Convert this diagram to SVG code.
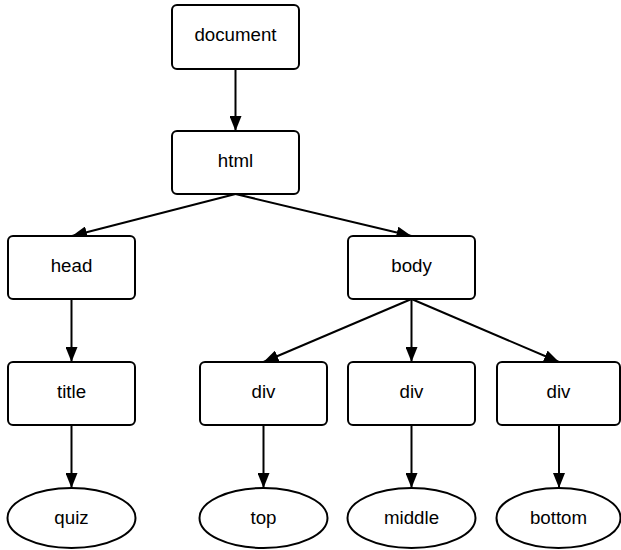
<svg xmlns="http://www.w3.org/2000/svg" width="621" height="550" viewBox="0 0 621 550">
<style>
.box{fill:#fff;stroke:#000;stroke-width:2}
.lbl{font-family:"Liberation Sans",Arial,sans-serif;font-size:18.7px;fill:#000;text-anchor:middle}
.edge{stroke:#000;stroke-width:2;fill:none;marker-end:url(#arr)}
</style>
<defs>
<marker id="arr" markerUnits="userSpaceOnUse" viewBox="0 0 15 12" refX="15" refY="6" markerWidth="15" markerHeight="12" orient="auto">
<path d="M0,0 L15,6 L0,12 Z" fill="#000"/>
</marker>
</defs>
<rect width="621" height="550" fill="#fff"/>
<g id="connectors">
<line class="edge" x1="235.5" y1="69" x2="235.5" y2="131"/>
<line class="edge" x1="235.5" y1="194" x2="72" y2="236"/>
<line class="edge" x1="235.5" y1="194" x2="411.5" y2="236"/>
<line class="edge" x1="71.5" y1="299" x2="71.5" y2="362"/>
<line class="edge" x1="411.5" y1="299" x2="263.5" y2="362"/>
<line class="edge" x1="411.5" y1="299" x2="411.5" y2="362"/>
<line class="edge" x1="411.5" y1="299" x2="559" y2="362"/>
<line class="edge" x1="71.5" y1="425" x2="71.5" y2="488"/>
<line class="edge" x1="263.5" y1="425" x2="263.5" y2="488"/>
<line class="edge" x1="411.5" y1="425" x2="411.5" y2="488"/>
<line class="edge" x1="559" y1="425" x2="559" y2="488"/>
</g>
<g id="document"><rect class="box" x="172" y="5" width="127" height="64" rx="5"/><text class="lbl" x="235.5" y="41">document</text></g>
<g id="html"><rect class="box" x="172" y="131" width="127" height="63" rx="5"/><text class="lbl" x="235.5" y="166.5">html</text></g>
<g id="head"><rect class="box" x="8" y="236" width="127" height="63" rx="5"/><text class="lbl" x="71.5" y="271.5">head</text></g>
<g id="body"><rect class="box" x="348" y="236" width="127" height="63" rx="5"/><text class="lbl" x="411.5" y="271.5">body</text></g>
<g id="title"><rect class="box" x="8" y="362" width="127" height="63" rx="5"/><text class="lbl" x="71.5" y="397.5">title</text></g>
<g id="div-top"><rect class="box" x="200" y="362" width="127" height="63" rx="5"/><text class="lbl" x="263.5" y="397.5">div</text></g>
<g id="div-middle"><rect class="box" x="348" y="362" width="127" height="63" rx="5"/><text class="lbl" x="411.5" y="397.5">div</text></g>
<g id="div-bottom"><rect class="box" x="497" y="362" width="123" height="63" rx="5"/><text class="lbl" x="558.5" y="397.5">div</text></g>
<g id="quiz"><ellipse class="box" cx="71.5" cy="518" rx="64" ry="30"/><text class="lbl" x="71.5" y="523.5">quiz</text></g>
<g id="top"><ellipse class="box" cx="263.5" cy="518" rx="64" ry="30"/><text class="lbl" x="263.5" y="523.5">top</text></g>
<g id="middle"><ellipse class="box" cx="411.5" cy="518" rx="64" ry="30"/><text class="lbl" x="411.5" y="523.5">middle</text></g>
<g id="bottom"><ellipse class="box" cx="558.5" cy="518" rx="62" ry="30"/><text class="lbl" x="558.5" y="523.5">bottom</text></g>
</svg>
